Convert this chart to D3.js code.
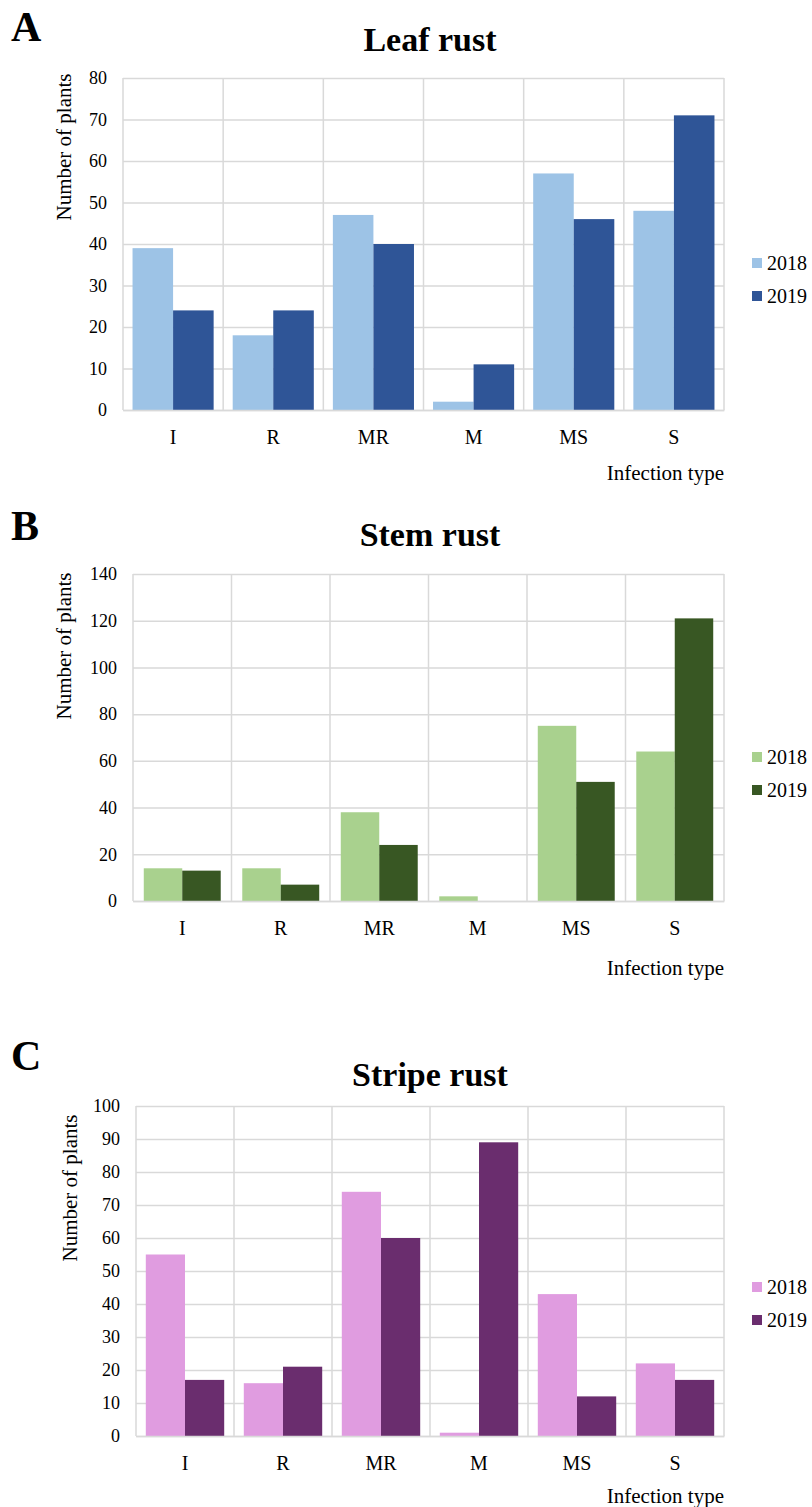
<!DOCTYPE html>
<html>
<head>
<meta charset="utf-8">
<script src="https://cdn.jsdelivr.net/npm/d3@7"></script>
<style>
    body { margin: 0; background: #fff; }
</style>
</head>
<body>
<div id="chart"></div>
<script>
const categories = ['I', 'R', 'MR', 'M', 'MS', 'S']
const years = ['2018', '2019']

const leaf2018 = [39, 18, 47, 2, 57, 48]
const leaf2019 = [24, 24, 40, 11, 46, 71]
const stem2018 = [14, 14, 38, 2, 75, 64]
const stem2019 = [13, 7, 24, 0, 51, 121]
const stripe2018 = [55, 16, 74, 1, 43, 22]
const stripe2019 = [17, 21, 60, 89, 12, 17]

const leafTicks = [0, 10, 20, 30, 40, 50, 60, 70, 80]
const stemTicks = [0, 20, 40, 60, 80, 100, 120, 140]
const stripeTicks = [0, 10, 20, 30, 40, 50, 60, 70, 80, 90, 100]

const serif = "'Liberation Serif', 'Times New Roman', Times, serif"

const svg = d3.select('#chart')
    .append('svg')
    .attr('width', 812)
    .attr('height', 1507)
    .style('font-family', serif)

const createPanel = (p) => {
    const g = svg.append('g')
    const xScale = d3.scaleBand().domain(categories).range([p.left, p.right]).padding(0)
    const x1 = d3.scaleBand().domain(years).range([0, xScale.bandwidth()]).paddingInner(0).paddingOuter(p.pad)
    const yScale = d3.scaleLinear().domain([0, d3.max(p.ticks)]).range([p.bottom, p.top])

    // horizontal grid
    g.append('g')
        .attr('transform', `translate(${p.left}, 0)`)
        .call(d3.axisLeft(yScale).tickValues(p.ticks).tickSize(-(p.right - p.left)).tickFormat(''))
        .call((s) => s.select('.domain').remove())
        .call((s) => s.selectAll('line').attr('stroke', '#d9d9d9').attr('stroke-width', 1.5))

    // vertical grid at category boundaries
    g.append('g')
        .selectAll('line')
        .data(categories.concat(['end']))
        .enter()
        .append('line')
        .attr('x1', (d, i) => i < categories.length ? xScale(d) : p.right)
        .attr('x2', (d, i) => i < categories.length ? xScale(d) : p.right)
        .attr('y1', p.top)
        .attr('y2', p.bottom)
        .attr('stroke', '#d9d9d9')
        .attr('stroke-width', 1.5)

    // bars
    const rows = categories.map((c, i) => ({ cat: c, vals: [p.a[i], p.b[i]] }))
    g.append('g')
        .selectAll('g')
        .data(rows)
        .enter()
        .append('g')
        .attr('transform', (d) => `translate(${xScale(d.cat)}, 0)`)
        .selectAll('rect')
        .data((d) => d.vals.map((v, j) => ({ year: years[j], v: v })))
        .enter()
        .append('rect')
        .attr('x', (d) => x1(d.year))
        .attr('y', (d) => yScale(d.v))
        .attr('width', x1.bandwidth())
        .attr('height', (d) => p.bottom - yScale(d.v))
        .attr('fill', (d, j) => p.colors[j])

    // y tick labels
    g.append('g')
        .attr('transform', `translate(${p.left - 6}, 0)`)
        .call(d3.axisLeft(yScale).tickValues(p.ticks).tickSize(0).tickPadding(10))
        .attr('font-family', serif)
        .attr('font-size', 18)
        .call((s) => s.select('.domain').remove())
        .call((s) => s.selectAll('text').attr('fill', '#000'))

    // x tick labels
    g.append('g')
        .attr('transform', `translate(0, ${p.bottom})`)
        .call(d3.axisBottom(xScale).tickSize(0).tickPadding(20))
        .attr('font-family', serif)
        .attr('font-size', 20)
        .call((s) => s.select('.domain').attr('stroke', '#d9d9d9').attr('stroke-width', 1.5))
        .call((s) => s.selectAll('text').attr('fill', '#000'))

    // axis titles
    g.append('text')
        .attr('transform', `translate(${p.ylabX}, ${p.ylabY}) rotate(-90)`)
        .attr('text-anchor', 'middle')
        .attr('dominant-baseline', 'central')
        .style('font-family', serif)
        .style('font-size', '21px')
        .text('Number of plants')
    g.append('text')
        .attr('x', p.right)
        .attr('y', p.bottom + p.xlabDy)
        .attr('text-anchor', 'end')
        .style('font-family', serif)
        .style('font-size', '21px')
        .text('Infection type')

    // title and panel letter
    g.append('text')
        .attr('x', 430)
        .attr('y', p.titleY)
        .attr('text-anchor', 'middle')
        .style('font-family', serif)
        .style('font-size', '34px')
        .style('font-weight', 'bold')
        .text(p.title)
    g.append('text')
        .attr('x', 11)
        .attr('y', p.letterY)
        .style('font-family', serif)
        .style('font-size', '42px')
        .style('font-weight', 'bold')
        .text(p.letter)

    // legend
    const leg = g.append('g')
    years.forEach((y, j) => {
        leg.append('rect')
            .attr('x', 752)
            .attr('y', p.legY + j * p.legGap - 5)
            .attr('width', 10)
            .attr('height', 10)
            .attr('fill', p.colors[j])
        leg.append('text')
            .attr('x', 767)
            .attr('y', p.legY + j * p.legGap)
            .attr('dominant-baseline', 'central')
            .style('font-family', serif)
            .style('font-size', '20px')
            .text(y)
    })
}

createPanel({
    a: leaf2018, b: leaf2019, ticks: leafTicks, title: 'Leaf rust', letter: 'A',
    left: 123, right: 724, top: 78, bottom: 410, pad: 0.235,
    colors: ['#9dc3e6', '#2f5597'], ylabX: 64, ylabY: 147, xlabDy: 70,
    titleY: 51, letterY: 41, legY: 263, legGap: 33
})
createPanel({
    a: stem2018, b: stem2019, ticks: stemTicks, title: 'Stem rust', letter: 'B',
    left: 133, right: 724, top: 574, bottom: 901, pad: 0.28,
    colors: ['#a9d18e', '#385723'], ylabX: 64, ylabY: 646, xlabDy: 74,
    titleY: 546, letterY: 540, legY: 757, legGap: 33
})
createPanel({
    a: stripe2018, b: stripe2019, ticks: stripeTicks, title: 'Stripe rust', letter: 'C',
    left: 136, right: 724, top: 1106, bottom: 1436, pad: 0.25,
    colors: ['#e09ce0', '#6a2d6e'], ylabX: 70, ylabY: 1188, xlabDy: 67,
    titleY: 1086, letterY: 1070, legY: 1287, legGap: 33
})
</script>
</body>
</html>
